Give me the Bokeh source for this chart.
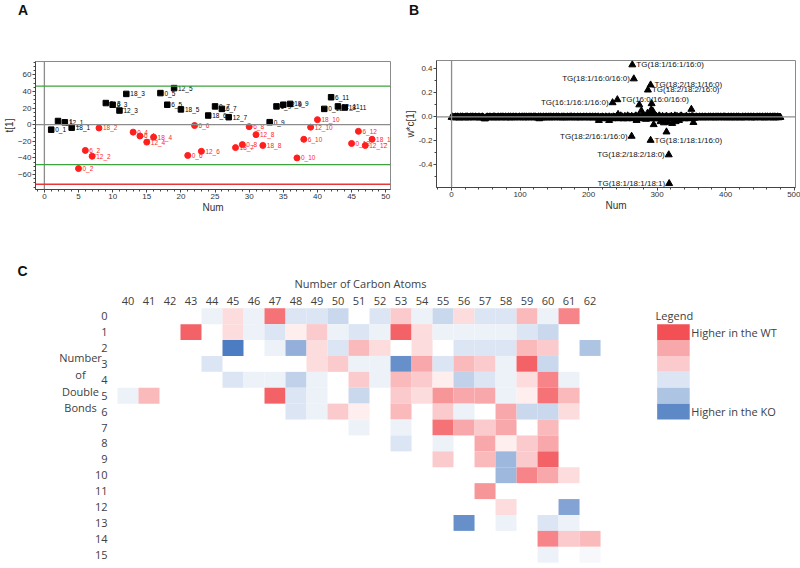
from bokeh.plotting import figure
from bokeh.models import (Range1d, Span, ColumnDataSource, LinearColorMapper, Div,
                          FixedTicker, PrintfTickFormatter)
from bokeh.layouts import column, row
from bokeh.embed import file_html
from bokeh.resources import INLINE
from bokeh.core.properties import value

FONT = "Liberation Sans"
CFONT = "Open Sans"

# ---------------- Panel A data (scores t[1]) ----------------
a_num = list(range(1, 49))
a_t1 = [-6, 4.4, 2.8, -3.6, -52.8, -31, -38, -4, 26, 24, 17, 37, -9, -13.6, -21, -15,
        38, 24, 44, 18.4, -37, -1, -32, 11, 22, 19, 9, -27.6, -24, -2.4, -12, -25,
        3, 22, 24, 25, -40, -17.6, -3, 6, 19, 33, 22, 20.6, -22.6, -8, -25, -17.6]
a_label = ["0_1", "6_1", "12_1", "18_1", "0_2", "6_2", "12_2", "18_2",
           "0_3", "6_3", "12_3", "18_3", "0_4", "6_4", "12_4", "18_4",
           "0_5", "6_5", "12_5", "18_5", "0_6", "6_6", "12_6", "18_6",
           "0_7", "6_7", "12_7", "18_7", "0_8", "6_8", "12_8", "18_8",
           "0_9", "6_9", "12_9", "18_9", "0_10", "6_10", "12_10", "18_10",
           "0_11", "6_11", "12_11", "18_11", "0_12", "6_12", "12_12", "18_12"]
a_group = ["k", "k", "k", "k", "r", "r", "r", "r", "k", "k", "k", "k", "r", "r", "r", "r",
           "k", "k", "k", "k", "r", "r", "r", "k", "k", "k", "k", "r", "r", "r", "r", "r",
           "k", "k", "k", "k", "r", "r", "r", "r", "k", "k", "k", "k", "r", "r", "r", "r"]
a_green_limits = [46.3, -48.0]
a_red_limit = [-71.7]
a_xticks = [0, 5, 10, 15, 20, 25, 30, 35, 40, 45, 50]
a_yticks = [-60, -40, -20, 0, 20, 40, 60]

# ---------------- Panel B data (loadings w*c[1]) ----------------
# background band, one digit per variable (Num 0..480); w*c = (digit-5)*0.004
band_codes = (
    "454344534543354453443545344354453445434453344543"
    "113454435443453544345344534544353445435344534454"
    "344534454354354435445344535443451453435344534453"
    "453445344543544345345344354435453445344354435344"
    "453445344354435344534452344153432544135424315443"
    "362514372541362417352436142537153624153726143526"
    "251634271536241725136241526314253614257316243517"
    "352415362415342635243544345344534453443544534453"
    "435445344534453544345344534453435445344345344534"
    "454435344534435444534453435445344534453453445344"
    "4"
)
b_extra_num = [215, 230, 243, 270, 274, 277, 284, 286, 291.5, 292, 294, 295, 305, 310,
               313.7, 316, 322, 327, 332, 350, 353]
b_extra_w = [-0.03, -0.03, 0.02, -0.03, 0.10, 0.05, -0.02, 0.03, 0.06, 0.11, 0.045, -0.065,
             -0.04, -0.05, -0.126, -0.045, -0.055, -0.04, -0.03, 0.063, -0.047]
b_lab_text = ["TG(18:1/16:1/16:0)", "TG(18:2/18:1/16:0)", "TG(18:2/18:2/16:0)",
              "TG(16:0/16:0/16:0)", "TG(18:1/18:1/16:0)",
              "TG(18:1/16:0/16:0)", "TG(16:1/16:1/16:0)", "TG(18:2/16:1/16:0)",
              "TG(18:2/18:2/18:0)", "TG(18:1/18:1/18:1)"]
b_lab_num = [263.8, 290.5, 286.6, 242, 290.5, 266, 235, 262.8, 317, 317.6]
b_lab_w = [0.434, 0.266, 0.224, 0.143, -0.196, 0.317, 0.118, -0.162, -0.317, -0.557]
b_lab_side = ["right", "right", "right", "right", "right", "left", "left", "left", "left", "left"]
b_xticks = [0, 100, 200, 300, 400, 500]
b_yticks = [-0.4, -0.2, 0.0, 0.2, 0.4]

# ---------------- Panel C data (heatmap) ----------------
carbon_labels = [40, 41, 42, 43, 44, 45, 46, 47, 48, 49, 50, 51, 52, 53, 54, 55, 56, 57,
                 58, 59, 60, 61, 62]
bond_labels = list(range(0, 16))
heat_bonds = ([0] * 17 + [1] * 17 + [2] * 14 + [3] * 13 + [4] * 16 + [5] * 15 + [6] * 11 +
              [7] * 7 + [8] * 6 + [9] * 5 + [10] * 4 + [11] * 1 + [12] * 2 + [13] * 4 +
              [14] * 3 + [15] * 2)
heat_carbon = [
    44, 45, 46, 47, 48, 49, 50, 52, 53, 54, 55, 56, 57, 58, 59, 60, 61,   # 0
    43, 45, 46, 47, 48, 49, 50, 51, 52, 53, 54, 55, 56, 57, 58, 59, 60,   # 1
    45, 47, 48, 49, 50, 51, 52, 54, 56, 57, 58, 59, 60, 62,               # 2
    44, 49, 50, 51, 52, 53, 54, 55, 56, 57, 58, 59, 60,                   # 3
    45, 46, 47, 48, 49, 51, 52, 53, 54, 55, 56, 57, 58, 59, 60, 61,       # 4
    40, 41, 47, 48, 49, 51, 53, 54, 55, 56, 57, 58, 59, 60, 61,           # 5
    48, 49, 50, 51, 53, 55, 56, 58, 59, 60, 61,                           # 6
    51, 53, 55, 56, 57, 58, 60,                                           # 7
    53, 55, 57, 58, 59, 60,                                               # 8
    55, 57, 58, 59, 60,                                                   # 9
    58, 59, 60, 61,                                                       # 10
    57,                                                                   # 11
    58, 61,                                                               # 12
    56, 58, 60, 61,                                                       # 13
    60, 61, 62,                                                           # 14
    60, 62,                                                               # 15
]
heat_value = [
    -1, 2, -1, 8, -2, -2, -3, -2, 3, -1, -3, 2, -2, -2, 4, -1, 7,
    9, 2, -1, -2, 1, 3, -1, -2, -1, 9, 2, -1, -1, -1, -1, -2, -3,
    -10, -1, -6, 2, -2, 4, 2, 2, -2, -2, -2, 4, 3, -4.5,
    -2, 2, 3, -1, -1, -8.5, 5, -2, 4, 3, -1, 9, -3,
    -2, -1, -1, -3.5, -1, 3, -1, 4, 3, 1, -3.5, -2, -1, 2, 7, -1,
    -1, 4, 9, -2, -1, -3, 3, 2, 6, 5, 5, -1, 1, 8, 4,
    -2, -1, 3, 1, 4, 3, -1, 5, -3, -3, 2,
    -1, -1, 8, 5, 3, 5, 4,
    -2, -1, 5, 1, 3, 5,
    3, 4, -5.5, 3, 9,
    -5.5, 7, 5, 2,
    6,
    2, -7,
    -8.5, -1, -2, -1,
    7, 3, 4,
    -1, -0.5,
]
legend_levels = [10, 5, 3, -2, -4.5, -9]
legend_rows = [1, 2, 3, 4, 5, 6]
legend_texts = ["Higher in the WT", "Higher in the KO"]


def style_axis(ax):
    ax.major_label_text_font = FONT
    ax.major_label_text_font_size = "8px"
    ax.major_label_text_color = "#333333"
    ax.axis_label_text_font = FONT
    ax.axis_label_text_font_size = "10px"
    ax.axis_label_text_font_style = "normal"
    ax.axis_label_text_color = "#333333"
    ax.axis_line_color = "#444444"
    ax.major_tick_line_color = "#444444"
    ax.minor_tick_line_color = "#444444"
    ax.major_tick_out = 3
    ax.major_tick_in = 0
    ax.minor_tick_out = 2
    ax.minor_tick_in = 0
    ax.major_label_standoff = 1
    ax.axis_label_standoff = 0


def panel_letter(letter, left):
    html = ('<div style="padding:2px 0 0 %dpx;font-family:\'Liberation Sans\',Arial,sans-serif;'
            'font-size:14px;font-weight:bold;color:#111111;line-height:16px;">%s</div>'
            % (left, letter))
    return Div(text=html, width=400, height=20, margin=0)


HDR_H = 20
TOP_H = 202

# ================= Panel A =================
pA = figure(width=400, height=TOP_H, x_range=Range1d(-1.3, 50.7), y_range=Range1d(-78, 76),
            output_backend="svg", toolbar_location=None,
            min_border_left=26, min_border_right=10, min_border_top=41, min_border_bottom=33)
pA.grid.visible = False
pA.outline_line_color = "#8a8a8a"
pA.xaxis.axis_label = "Num"
pA.yaxis.axis_label = "t[1]"
style_axis(pA.xaxis)
style_axis(pA.yaxis)
pA.xaxis.ticker = FixedTicker(ticks=a_xticks, minor_ticks=list(range(-1, 51)))
pA.yaxis.ticker = FixedTicker(ticks=a_yticks, minor_ticks=list(range(-75, 76, 5)))

pA.add_layout(Span(location=0, dimension="width", line_color="#8c8c8c", line_width=1.3))
pA.add_layout(Span(location=0, dimension="height", line_color="#8c8c8c", line_width=1.3))
for g in a_green_limits:
    pA.add_layout(Span(location=g, dimension="width", line_color="#3da33d", line_width=1.3))
for r in a_red_limit:
    pA.add_layout(Span(location=r, dimension="width", line_color="#e8363b", line_width=1.3))

colors = ["#000000" if g == "k" else "#ff1f1f" for g in a_group]
srcA = ColumnDataSource(dict(x=a_num, y=a_t1, lab=a_label, col=colors))
kx = [x for x, g in zip(a_num, a_group) if g == "k"]
ky = [y for y, g in zip(a_t1, a_group) if g == "k"]
rx = [x for x, g in zip(a_num, a_group) if g == "r"]
ry = [y for y, g in zip(a_t1, a_group) if g == "r"]
pA.scatter(kx, ky, marker="square", size=5.5, color="black")
pA.scatter(rx, ry, marker="circle", size=6, color="#ff1f1f")
pA.text(x="x", y="y", text="lab", source=srcA, text_color="col", x_offset=4,
        text_align="left", text_baseline="middle", text_font=value(FONT),
        text_font_size="6.5px")

# ================= Panel B =================
pB = figure(width=400, height=TOP_H, x_range=Range1d(-22, 502), y_range=Range1d(-0.59, 0.47),
            output_backend="svg", toolbar_location=None,
            min_border_left=36, min_border_right=5, min_border_top=40, min_border_bottom=35)
pB.grid.visible = False
pB.outline_line_color = "#8a8a8a"
pB.xaxis.axis_label = "Num"
pB.yaxis.axis_label = "w*c[1]"
style_axis(pB.xaxis)
style_axis(pB.yaxis)
pB.xaxis.ticker = FixedTicker(ticks=b_xticks, minor_ticks=list(range(-20, 501, 20)))
pB.yaxis.ticker = FixedTicker(ticks=b_yticks, minor_ticks=[-0.5, -0.3, -0.1, 0.1, 0.3])
pB.yaxis.formatter = PrintfTickFormatter(format="%.1f")
pB.add_layout(Span(location=0, dimension="width", line_color="#8c8c8c", line_width=1.3))
pB.add_layout(Span(location=0, dimension="height", line_color="#8c8c8c", line_width=1.3))

band_num = list(range(len(band_codes)))
band_w = [(int(d) - 5) * 0.004 for d in band_codes]
pB.scatter(band_num, band_w, marker="triangle", size=7, color="black")
pB.scatter(b_extra_num, b_extra_w, marker="triangle", size=7, color="black")
pB.scatter(b_lab_num, b_lab_w, marker="triangle", size=7, color="black")
srcR = ColumnDataSource(dict(x=[x for x, s in zip(b_lab_num, b_lab_side) if s == "right"],
                             y=[y for y, s in zip(b_lab_w, b_lab_side) if s == "right"],
                             t=[t for t, s in zip(b_lab_text, b_lab_side) if s == "right"]))
srcL = ColumnDataSource(dict(x=[x for x, s in zip(b_lab_num, b_lab_side) if s == "left"],
                             y=[y for y, s in zip(b_lab_w, b_lab_side) if s == "left"],
                             t=[t for t, s in zip(b_lab_text, b_lab_side) if s == "left"]))
pB.text(x="x", y="y", text="t", source=srcR, x_offset=4, text_align="left",
        text_baseline="middle", text_font=value(FONT), text_font_size="8px",
        text_color="#111111")
pB.text(x="x", y="y", text="t", source=srcL, x_offset=-4, text_align="right",
        text_baseline="middle", text_font=value(FONT), text_font_size="8px",
        text_color="#111111")

# ================= Panel C =================
def hex2rgb(h):
    return tuple(int(h[i:i + 2], 16) for i in (1, 3, 5))


BLUE, WHITE, RED = hex2rgb("#4c7cc1"), (255, 255, 255), hex2rgb("#f25055")
palette = []
for i in range(201):
    t = (i - 100) / 100.0
    c2 = RED if t > 0 else BLUE
    a = abs(t)
    rgb = tuple(round(WHITE[k] + (c2[k] - WHITE[k]) * a) for k in range(3))
    palette.append("#%02x%02x%02x" % rgb)
mapper = LinearColorMapper(palette=palette, low=-10, high=10)

pC = figure(width=800, height=344, x_range=Range1d(33.93, 72.02),
            y_range=Range1d(15.74, -5.89), output_backend="svg", toolbar_location=None,
            x_axis_location=None, y_axis_location=None, min_border=0)
pC.grid.visible = False
pC.outline_line_color = None

srcC = ColumnDataSource(dict(c=heat_carbon, b=heat_bonds, v=heat_value))
pC.rect(x="c", y="b", width=1, height=1, source=srcC,
        fill_color={"field": "v", "transform": mapper}, line_color=None)

TXT = "#404040"
pC.text(x=carbon_labels, y=[-0.98] * len(carbon_labels), text=[str(c) for c in carbon_labels],
        text_align="center", text_baseline="middle", text_font=value(CFONT),
        text_font_size="11px", text_color=TXT)
pC.text(x=[39.03] * len(bond_labels), y=bond_labels, text=[str(b) for b in bond_labels],
        text_align="right", text_baseline="middle", text_font=value(CFONT),
        text_font_size="11px", text_color=TXT)
pC.text(x=[51.07], y=[-2.03], text=["Number of Carbon Atoms"], text_align="center",
        text_baseline="middle", text_font=value(CFONT), text_font_size="11px", text_color=TXT)
pC.text(x=[37.74] * 4, y=[2.6, 3.67, 4.74, 5.75], text=["Number", "of", "Double", "Bonds"],
        text_align="center", text_baseline="middle", text_font=value(CFONT),
        text_font_size="11px", text_color=TXT)
pC.text(x=[34.98], y=[-2.87], text=["C"], text_align="center", text_baseline="middle",
        text_font=value(FONT), text_font_size="14px", text_font_style="bold",
        text_color="#111111")

# legend
srcL2 = ColumnDataSource(dict(x=[65.97] * len(legend_levels), y=legend_rows, v=legend_levels))
pC.rect(x="x", y="y", width=1.55, height=1.0, source=srcL2,
        fill_color={"field": "v", "transform": mapper}, line_color=None)
pC.text(x=[65.12], y=[-0.04], text=["Legend"], text_align="left", text_baseline="middle",
        text_font=value(CFONT), text_font_size="11px", text_color=TXT)
pC.text(x=[66.82, 66.82], y=[legend_rows[0], legend_rows[-1]], text=legend_texts,
        text_align="left", text_baseline="middle", text_font=value(CFONT),
        text_font_size="11px", text_color=TXT)

layout = column(row(column(panel_letter("A", 18), pA), column(panel_letter("B", 9), pB)), pC)
open("out.html", "w").write(file_html(layout, INLINE))
